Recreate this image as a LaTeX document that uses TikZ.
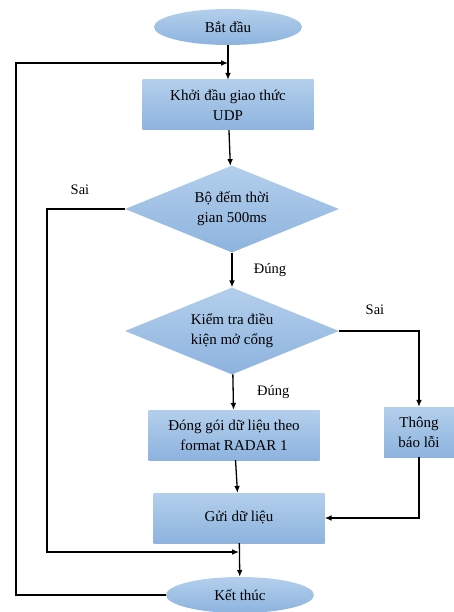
\documentclass[tikz,border=0pt]{standalone}
\usepackage{fontspec}
\setmainfont{Liberation Serif}
\definecolor{boxtop}{HTML}{B3CFEC}
\definecolor{boxbot}{HTML}{8DB3DE}
\usetikzlibrary{arrows.meta, shapes, positioning, calc}

\begin{document}
\begin{tikzpicture}[
        x=1pt, y=-1pt,
        base/.style={top color=boxtop, bottom color=boxbot, draw=none,
                     font=\fontsize{15}{20}\selectfont, align=center, inner sep=0pt},
        term/.style={base, ellipse, minimum width=148pt, minimum height=36pt},
        proc/.style={base, rectangle, minimum width=171pt, minimum height=50pt},
        cond/.style={base, diamond, aspect=2.5, minimum width=214pt, minimum height=87pt},
        lbl/.style={font=\fontsize{14.5}{17}\selectfont},
        arr/.style={-{Latex[length=2.4mm, width=2mm]}, line width=1.3pt}
      ]
      \useasboundingbox (0,0) rectangle (454,612);

      \node[term] (start) at (228,27)  {Bắt đầu};
      \node[proc] (init)  at (228,105) {Khởi đầu giao thức\\UDP};
      \node[cond] (timer) at (232,209) {Bộ đếm thời\\gian 500ms};
      \node[cond] (check) at (232,331) {Kiểm tra điều\\kiện mở cổng};
      \node[proc] (pack)  at (234,435) {Đóng gói dữ liệu theo\\format RADAR 1};
      \node[proc, minimum width=70pt] (err) at (419,432) {Thông\\báo lỗi};
      \node[proc] (send)  at (239,518) {Gửi dữ liệu};
      \node[term] (stop)  at (240,595) {Kết thúc};

      \coordinate (loopin) at (228,63);
      \coordinate (sailin) at (239,552);
      \coordinate (loopx)  at (16,0);
      \coordinate (sailx)  at (47,0);
      \coordinate (errx)   at (419,0);

      \draw[arr] (start) -- (init);
      \draw[arr] (init)  -- (timer);
      \draw[arr] (timer) -- (check)
        node[midway, right=18pt, lbl]{Đúng};
      \draw[arr] (check) -- (pack)
        node[midway, right=20pt, lbl]{Đúng};
      \draw[arr] (pack)  -- (send);
      \draw[arr] (send)  -- (stop);

      % nhanh Sai
      \draw[arr] (timer.west) -- (timer.west -| sailx) |- (sailin);
      \draw[arr] (check.east) -- (check.east -| errx) -- (err.north);
      \draw[arr] (err.south) |- (send.east);

      % vong lap
      \draw[arr] (stop.west) -- (stop.west -| loopx) |- (loopin);

      \node[lbl] (sai1) at (80,190) {Sai};
      \node[lbl] (sai2) at (375,310) {Sai};
    \end{tikzpicture}
\end{document}
